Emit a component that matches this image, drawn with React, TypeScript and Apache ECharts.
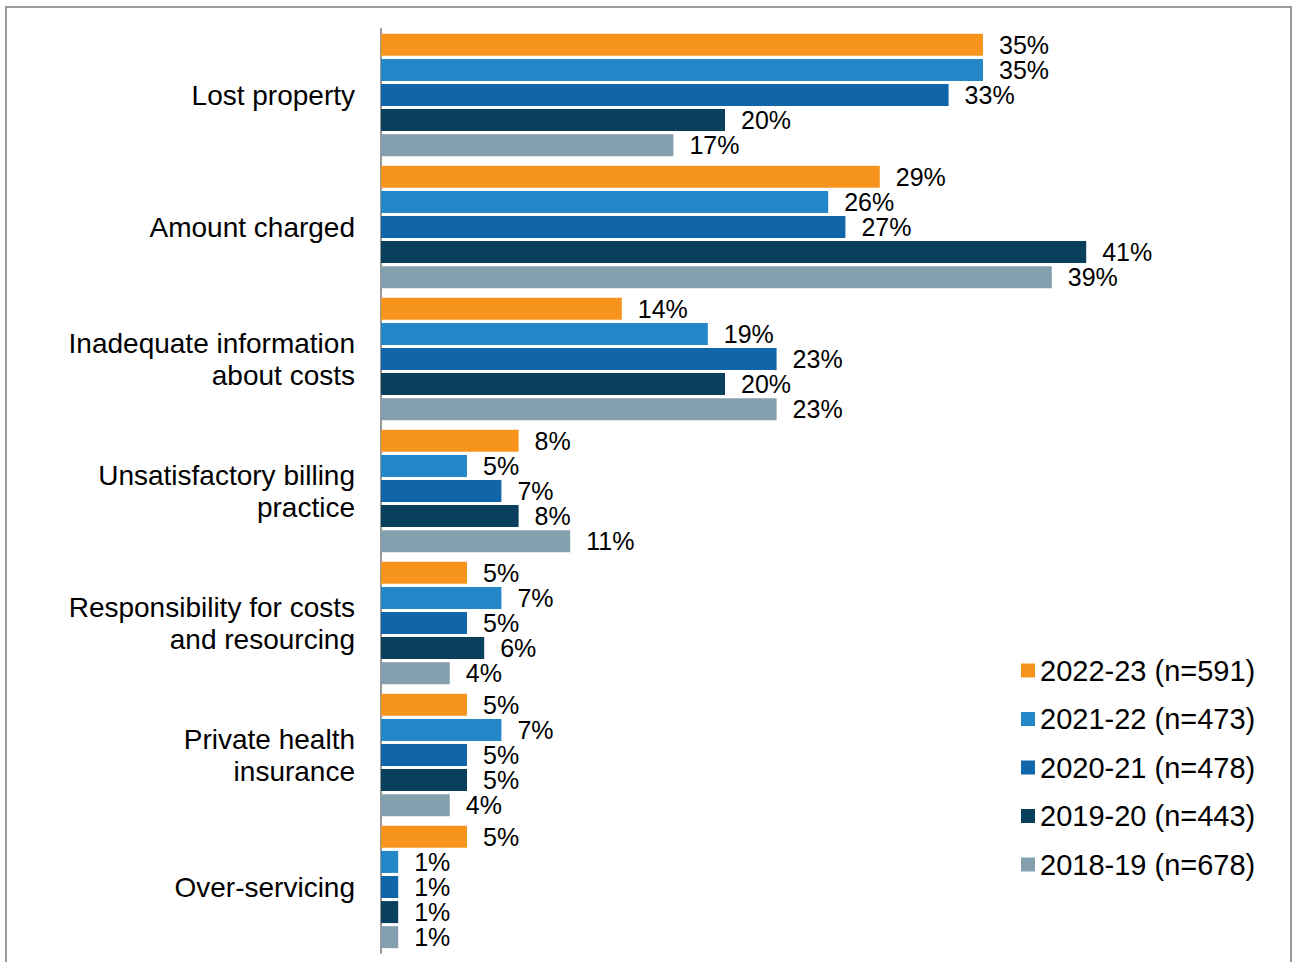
import React, { useEffect, useRef } from "react";
import * as echarts from "echarts";

const categories = [
  "Lost property",
  "Amount charged",
  "Inadequate information\nabout costs",
  "Unsatisfactory billing\npractice",
  "Responsibility for costs\nand resourcing",
  "Private health\ninsurance",
  "Over-servicing",
];

const seriesNames = [
  "2022-23 (n=591)",
  "2021-22 (n=473)",
  "2020-21 (n=478)",
  "2019-20 (n=443)",
  "2018-19 (n=678)",
];

const v2022 = [35, 29, 14, 8, 5, 5, 5];
const v2021 = [35, 26, 19, 5, 7, 7, 1];
const v2020 = [33, 27, 23, 7, 5, 5, 1];
const v2019 = [20, 41, 20, 8, 6, 5, 1];
const v2018 = [17, 39, 23, 11, 4, 4, 1];

const seriesValues = [v2022, v2021, v2020, v2019, v2018];
const colors = ["#F7941D", "#2487C8", "#1066A8", "#0A3F5E", "#84A0AE"];

const FONT = "'Liberation Sans', Arial, sans-serif";

export default function App() {
  const ref = useRef<HTMLDivElement>(null);
  useEffect(() => {
    if (!ref.current) return;
    const chart = echarts.init(ref.current, null, { renderer: "svg" });
    chart.setOption({
      animation: false,
      textStyle: { fontFamily: FONT },
      graphic: [
        {
          type: "rect",
          shape: { x: 6, y: 7, width: 1285, height: 970 },
          style: { fill: "none", stroke: "#999999", lineWidth: 2 },
          silent: true,
        },
      ],
      grid: { left: 381, top: 29, width: 860, height: 924 },
      legend: {
        orient: "vertical",
        left: 1016,
        top: 650,
        icon: "rect",
        itemWidth: 14,
        itemHeight: 14,
        itemGap: 17.5,
        data: seriesNames,
        textStyle: { fontSize: 29, color: "#000", fontFamily: FONT, lineHeight: 31 },
      },
      xAxis: {
        type: "value",
        min: 0,
        max: 50,
        show: false,
      },
      yAxis: {
        type: "category",
        inverse: true,
        data: categories,
        axisTick: { show: false },
        axisLine: { show: true, lineStyle: { color: "#999999", width: 2 } },
        axisLabel: {
          fontSize: 28,
          color: "#000",
          margin: 26,
          lineHeight: 32,
          align: "right",
          fontFamily: FONT,
        },
      },
      series: seriesNames.map((name, i) => ({
        name,
        type: "bar",
        data: seriesValues[i],
        barWidth: 22,
        barGap: "14%",
        itemStyle: { color: colors[i] },
        label: {
          show: true,
          position: "right",
          distance: 16,
          formatter: "{c}%",
          fontSize: 25,
          lineHeight: 24,
          color: "#000",
          fontFamily: FONT,
        },
      })),
    });
    return () => chart.dispose();
  }, []);
  return (
    <div
      ref={ref}
      style={{ position: "absolute", left: 0, top: 0, width: 1292, height: 962 }}
    />
  );
}
